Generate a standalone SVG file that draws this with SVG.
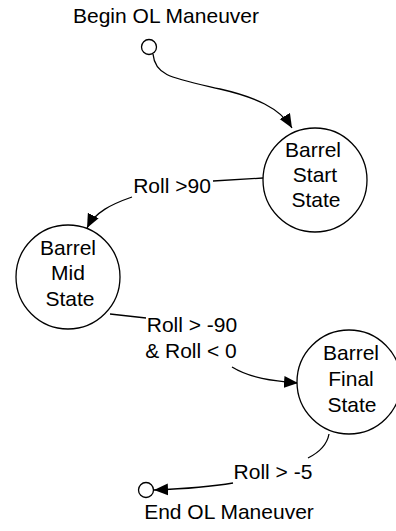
<svg xmlns="http://www.w3.org/2000/svg" width="396" height="531" viewBox="0 0 396 531">
<style>
.t{font-family:"Liberation Sans",Arial,Helvetica,sans-serif;font-size:21px;fill:#000;text-anchor:middle}
.s{fill:#fff;stroke:#000;stroke-width:1.3}
.c{fill:none;stroke:#000;stroke-width:1.3}
</style>
<defs>
<marker id="ah" markerUnits="userSpaceOnUse" markerWidth="15" markerHeight="15" viewBox="0 0 15 15" refX="14" refY="7.5" orient="auto">
<path d="M0,1.5 L14,7.5 L0,13.5 Z" fill="#000"/>
</marker>
</defs>
<rect width="396" height="531" fill="#fff"/>
<g id="connectors">
<path class="c" d="M153,54 C155,76 172,78 220,89 C255,97 280,108 292,128" marker-end="url(#ah)"/>
<path class="c" d="M263,178 L213,181"/>
<path class="c" d="M132,197 C112,204 95,212 87,228" marker-end="url(#ah)"/>
<path class="c" d="M110,314 L146,318"/>
<path class="c" d="M232,367 C250,378 272,381 298,383" marker-end="url(#ah)"/>
<path class="c" d="M329,434 C327,445 318,453 308,458"/>
<path class="c" d="M233,483 C210,487 180,489 154,490" marker-end="url(#ah)"/>
</g>
<g id="begin">
<text class="t" x="166" y="23">Begin OL Maneuver</text>
<circle class="s" cx="149" cy="47" r="7.5"/>
</g>
<g id="start-state">
<circle class="s" cx="315" cy="180" r="52"/>
<text class="t" x="313" y="157">Barrel</text>
<text class="t" x="315" y="182">Start</text>
<text class="t" x="316" y="207">State</text>
</g>
<g id="label-roll90">
<text class="t" x="172" y="193">Roll &gt;90</text>
</g>
<g id="mid-state">
<circle class="s" cx="68" cy="277" r="52"/>
<text class="t" x="68" y="255">Barrel</text>
<text class="t" x="68" y="280">Mid</text>
<text class="t" x="70" y="306">State</text>
</g>
<g id="label-roll-90">
<text class="t" x="192" y="332">Roll &gt; -90</text>
<text class="t" x="191" y="358">&amp; Roll &lt; 0</text>
</g>
<g id="final-state">
<circle class="s" cx="349" cy="382" r="52"/>
<text class="t" x="351" y="360">Barrel</text>
<text class="t" x="351" y="386">Final</text>
<text class="t" x="352" y="412">State</text>
</g>
<g id="label-roll-5">
<text class="t" x="273" y="479">Roll &gt; -5</text>
</g>
<g id="end">
<circle class="s" cx="146" cy="490" r="7.5"/>
<text class="t" x="229" y="519">End OL Maneuver</text>
</g>
</svg>
